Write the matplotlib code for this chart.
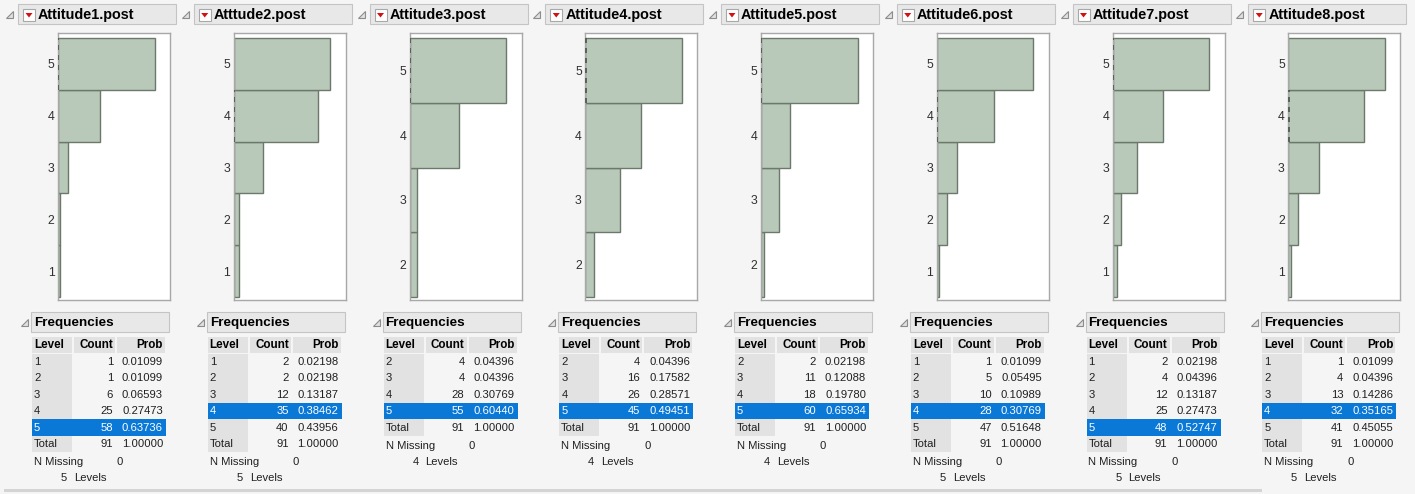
import matplotlib
matplotlib.use("Agg")
import matplotlib.pyplot as plt
from matplotlib.patches import Rectangle, Polygon

# ---- data ----
titles = ["Attitude1.post", "Atttude2.post", "Attitude3.post", "Attitude4.post",
          "Attitude5.post", "Attitude6.post", "Attitude7.post", "Attitude8.post"]
levels_1 = [1, 2, 3, 4, 5]
levels_2 = [1, 2, 3, 4, 5]
levels_3 = [2, 3, 4, 5]
levels_4 = [2, 3, 4, 5]
levels_5 = [2, 3, 4, 5]
levels_6 = [1, 2, 3, 4, 5]
levels_7 = [1, 2, 3, 4, 5]
levels_8 = [1, 2, 3, 4, 5]
counts_1 = [1, 1, 6, 25, 58]
counts_2 = [2, 2, 12, 35, 40]
counts_3 = [4, 4, 28, 55]
counts_4 = [4, 16, 26, 45]
counts_5 = [2, 11, 18, 60]
counts_6 = [1, 5, 10, 28, 47]
counts_7 = [2, 4, 12, 25, 48]
counts_8 = [1, 4, 13, 32, 41]
selected_level = [5, 4, 5, 5, 5, 4, 5, 4]
n_missing = [0, 0, 0, 0, 0, 0, 0, 0]

all_levels = [levels_1, levels_2, levels_3, levels_4,
              levels_5, levels_6, levels_7, levels_8]
all_counts = [counts_1, counts_2, counts_3, counts_4,
              counts_5, counts_6, counts_7, counts_8]

# ---- styling ----
W, H = 1415, 494
BG = "#f5f5f5"
BAR_FC = "#b9c9b9"
BAR_EC = "#6b786b"
SEL_BLUE = "#0a78d7"
HDR_FC = "#e8e8e8"
HDR_EC = "#c4c4c4"
CELL_FC = "#e2e2e2"
FONT = "Liberation Sans"
FS_TITLE = 10.4
FS_TABLE = 8.1
FS_COLHDR = 8.4
FS_TICK = 8.8
PANEL_STEP = 175.75

fig = plt.figure(figsize=(W / 100, H / 100), dpi=100)
fig.patch.set_facecolor(BG)

ov = fig.add_axes([0, 0, 1, 1])
ov.set_xlim(0, W)
ov.set_ylim(H, 0)
ov.axis("off")


def rect(x, y, w, h, fc, ec="none", lw=0.8, z=1):
    ov.add_patch(Rectangle((x, y), w, h, facecolor=fc, edgecolor=ec, linewidth=lw, zorder=z))


def disclosure(x, y):
    ov.add_patch(Polygon([(x, y + 7), (x + 7, y + 7), (x + 7, y)], closed=True,
                         facecolor="#e0e0e0", edgecolor="#8c8c8c", linewidth=0.8, zorder=2))


def txt(x, y, s, ha="left", color="#202020", size=FS_TABLE, weight="normal"):
    ov.text(x, y, s, ha=ha, va="center", color=color, fontsize=size,
            fontweight=weight, family=FONT, zorder=5)


for i in range(8):
    x0 = i * PANEL_STEP
    lv = all_levels[i]
    ct = all_counts[i]
    total = sum(ct)
    sel = selected_level[i]

    # header with disclosure icon and red menu button
    disclosure(x0 + 6, 11)
    rect(x0 + 18, 4, 158, 20, HDR_FC, HDR_EC)
    rect(x0 + 23, 9, 12, 12, "white", "#a8a8a8", 0.8, z=2)
    ov.add_patch(Polygon([(x0 + 25.5, 13), (x0 + 32.5, 13), (x0 + 29, 17.5)],
                         closed=True, facecolor="#d41010", edgecolor="none", zorder=3))
    txt(x0 + 38, 14.5, titles[i], color="black", size=FS_TITLE, weight="bold")

    # horizontal frequency bars
    ax = fig.add_axes([(x0 + 58) / W, (H - 300) / H, 112 / W, 267 / H])
    ax.set_facecolor("white")
    nlev = len(lv)
    band = 259.0 / nlev
    ax.set_ylim(min(lv) - 0.5 - 3.0 / band, max(lv) + 0.5 + 5.0 / band)
    ax.set_xlim(0, max(ct) * 1.16)
    ax.barh(lv, ct, height=1.0, left=0, color=BAR_FC, edgecolor=BAR_EC,
            linewidth=1.0, zorder=2)
    ax.plot([0.004 * max(ct), 0.004 * max(ct)], [sel - 0.5, sel + 0.5],
            color="#4a564a", linewidth=1.2, linestyle=(0, (3, 3)), zorder=3)
    ax.set_yticks(lv)
    ax.set_yticklabels([str(v) for v in lv], family=FONT, fontsize=FS_TICK, color="#303030")
    ax.set_xticks([])
    ax.tick_params(axis="y", length=0, pad=2.5)
    for sp in ax.spines.values():
        sp.set_color("#a8a8a8")
        sp.set_linewidth(1.0)

    # frequencies table
    disclosure(x0 + 21, 319)
    rect(x0 + 31, 312, 138, 20, HDR_FC, HDR_EC)
    txt(x0 + 34, 322.5, "Frequencies", color="black", size=9.7, weight="bold")

    rect(x0 + 32, 337, 40, 16, CELL_FC)
    rect(x0 + 74, 337, 41, 16, CELL_FC)
    rect(x0 + 117, 337, 48, 16, CELL_FC)
    txt(x0 + 34, 345, "Level", color="black", size=FS_COLHDR, weight="bold")
    txt(x0 + 113, 345, "Count", ha="right", color="black", size=FS_COLHDR, weight="bold")
    txt(x0 + 163, 345, "Prob", ha="right", color="black", size=FS_COLHDR, weight="bold")

    row_h = 16.4
    y = 362.0
    rows = [(str(v), c) for v, c in zip(lv, ct)] + [("Total", total)]
    rect(x0 + 32, y - row_h / 2, 40, row_h * len(rows), CELL_FC)
    for lab, c in rows:
        is_sel = lab == str(sel)
        col = "#202020"
        if is_sel:
            rect(x0 + 32, y - row_h / 2, 134, row_h, SEL_BLUE, z=2)
            col = "white"
        txt(x0 + 34, y, lab, color=col)
        txt(x0 + 113, y, str(c), ha="right", color=col)
        txt(x0 + 163, y, f"{c / total:.5f}", ha="right", color=col)
        y += row_h
    y_tot = y - row_h
    txt(x0 + 34, y_tot + 18, "N Missing")
    txt(x0 + 120, y_tot + 18, str(n_missing[i]), ha="center")
    txt(x0 + 67, y_tot + 34, str(nlev), ha="right")
    txt(x0 + 74, y_tot + 34, "Levels")

# bottom rule
rect(4, 489, 1258, 3, "#d4d4d4")

fig.savefig("out.png", dpi=100, facecolor=BG)
